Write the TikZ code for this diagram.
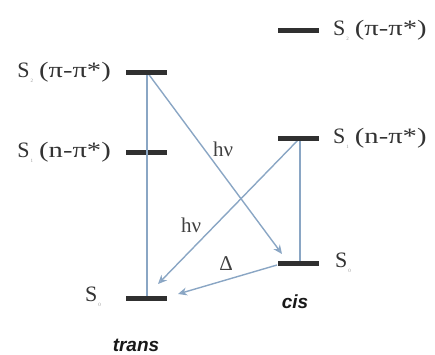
\documentclass[tikz,border=0pt]{standalone}
\usepackage{fontspec}
\usepackage{graphicx}
\setmainfont{Liberation Serif}
\newfontfamily\labsans{Liberation Sans}
\usetikzlibrary{arrows.meta}
\definecolor{arrowblue}{HTML}{8AA6C4}
\definecolor{bargray}{HTML}{303030}
\tikzset{
  level/.style={draw=none, fill=bargray, minimum width=41pt, minimum height=5pt, inner sep=0pt},
  statelab/.style={inner sep=0pt, font=\fontsize{22}{24}\selectfont, text=black!80},
  trans/.style={draw=arrowblue, line width=1.4pt, -{Stealth[open, length=9pt, width=8pt]}},
  plain/.style={draw=arrowblue, line width=1.4pt},
  tag/.style={inner sep=0pt, font=\labsans\bfseries\itshape\fontsize{19}{21}\selectfont, text=black!90},
  sm/.style={inner sep=0pt, font=\fontsize{21}{23}\selectfont, text=black!75}
}
\newcommand{\subs}[1]{\hspace{1pt}\raisebox{-5pt}{\fontsize{5}{5}\selectfont\color{black!40}#1}\hspace{6pt}}
\newcommand{\wide}[1]{\scalebox{1.3}[1]{#1}}
\begin{document}
\begin{tikzpicture}[x=1pt, y=-1pt]
\useasboundingbox (0,0) rectangle (435,354);
% levels
\node[level] (tS2) at (146,72) {};
\node[level] (tS1) at (146,152) {};
\node[level] (tS0) at (146,298) {};
\node[level] (cS2) at (298,30) {};
\node[level] (cS1) at (298,138) {};
\node[level] (cS0) at (298,263) {};
% labels
\node[statelab, anchor=east] (ltS2) at (111,72) {S\subs{2}\wide{(π-π*)}};
\node[statelab, anchor=east] (ltS1) at (111,152) {S\subs{1}\wide{(n-π*)}};
\node[statelab, anchor=east] (ltS0) at (101,297) {S\subs{0}};
\node[statelab, anchor=west] (lcS2) at (333,30) {S\subs{2}\wide{(π-π*)}};
\node[statelab, anchor=west] (lcS1) at (333,138) {S\subs{1}\wide{(n-π*)}};
\node[statelab, anchor=west] (lcS0) at (335,263) {S\subs{0}};
% coordinates on levels
\coordinate (a) at (147,72);
\coordinate (b) at (147,296);
\coordinate (c) at (300,138);
\coordinate (d) at (300,261);
\coordinate (e) at (282,254);
\coordinate (f) at (158,284);
\coordinate (g) at (277,265);
\coordinate (h) at (178,294);
% connectors
\draw[plain] (a) -- (b);
\draw[trans] (a) -- (e);
\draw[plain] (c) -- (d);
\draw[trans] (c) -- (f);
\draw[trans] (g) -- (h);
% redraw bars on top
\node[level] at (146,72) {};
\node[level] at (146,298) {};
\node[level] at (298,138) {};
\node[level] at (298,263) {};
% annotations
\node[sm] (hv1) at (223,149) {hν};
\node[sm] (hv2) at (191,225) {hν};
\node[sm] (del) at (226,264) {Δ};
\node[tag] (cis) at (295,302) {cis};
\node[tag] (trn) at (136,345) {trans};
\end{tikzpicture}
\end{document}
